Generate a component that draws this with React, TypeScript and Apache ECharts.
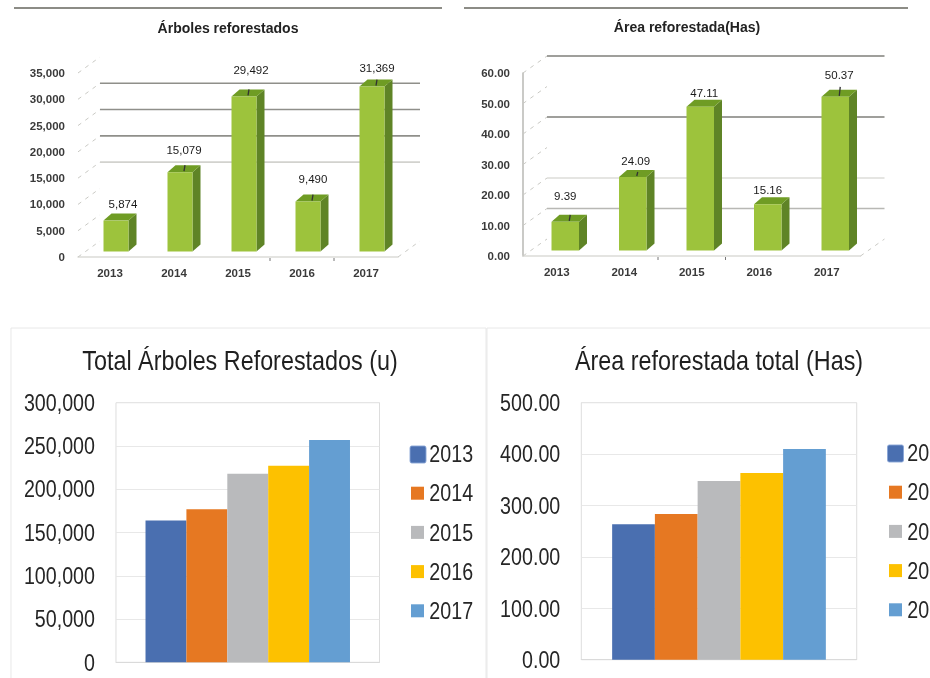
import React, { useEffect, useRef } from "react";
import * as echarts from "echarts";

// ---- data ----
const years = ["2013", "2014", "2015", "2016", "2017"];
const treeValues = [5874, 15079, 29492, 9490, 31369];
const areaValues = [9.39, 24.09, 47.11, 15.16, 50.37];
const treeTicks = [0, 5000, 10000, 15000, 20000, 25000, 30000, 35000];
const areaTicks = [0, 10, 20, 30, 40, 50, 60];
const treeWallLines: [number, string][] = [[30000, "#8f8f8a"], [25000, "#8f8f8a"], [20000, "#8f8f8a"], [15000, "#d2d2ce"]];
const areaWallLines: [number, string][] = [[60, "#7f7f7a"], [40, "#7f7f7a"], [20, "#dcdcd8"], [10, "#b8b8b4"]];
const totalTrees = [164000, 177000, 218000, 227000, 257000];
const totalArea = [263.4, 283.5, 347.7, 363.2, 410];
const yearColors = ["#4a6fb0", "#e67822", "#b9babc", "#fdc100", "#649ed2"];

// ---- label placement tweaks (layout only) ----
const treeLift = [17, 22, 26, 23, 19];
const treeShift = [7, 4, 7, 5, 5];
const treeLeader = [0, 6, 6, 6, 6];
const areaLift = [26, 16, 14, 14, 22];
const areaShift = [0, 3, 4, 0, 4];
const areaLeader = [6, 4, 0, 0, 9];

const SANS = '"Liberation Sans", Arial, sans-serif';
// The lower charts use a condensed face that is not installed: their whole
// instance is squeezed horizontally, so all x positions are divided by this.
const SQUEEZE = 0.82;
const sx = (x: number) => x / SQUEEZE;

function bars3d(axis: number, values: number[], fmt: (v: number) => string, barW: number, off: number, dx: number, dy: number, lift: number[], shift: number[], leader: number[]) {
  return {
    type: "custom",
    xAxisIndex: axis,
    yAxisIndex: axis,
    z: 5,
    silent: true,
    data: values.map((v, i) => [i, v]),
    renderItem: (_p: any, api: any) => {
      const i = api.value(0);
      const v = api.value(1);
      const top = api.coord([i, v]);
      const base = api.coord([i, 0]);
      const l = top[0] + off - barW / 2;
      const r = l + barW;
      const t = top[1] - 5.5;
      const b = base[1] - 5.5;
      const children: any[] = [
        { type: "polygon", shape: { points: [[r, t], [r + dx, t - dy], [r + dx, b - dy], [r, b]] }, style: { fill: "#5f8426" } },
        { type: "polygon", shape: { points: [[l, t], [l + dx, t - dy], [r + dx, t - dy], [r, t]] }, style: { fill: "#6f9c24" } },
        { type: "rect", shape: { x: l, y: t, width: barW, height: b - t }, style: { fill: "#9dc33c" } },
      ];
      const cx = (l + r) / 2;
      if (leader[i] > 0) {
        children.push({ type: "line", shape: { x1: cx + dx / 2, y1: t - 1, x2: cx + dx / 2 + 1, y2: t - 1 - leader[i] }, style: { stroke: "#333", lineWidth: 1.3 } });
      }
      children.push({
        type: "text",
        style: { text: fmt(v), x: cx + shift[i], y: t - lift[i], textAlign: "center", textVerticalAlign: "middle", fill: "#1a1a1a", fontSize: 11.5, fontFamily: SANS },
      });
      return { type: "group", children };
    },
  };
}

function wall(axis: number, ticks: number[], lines: [number, string][], dx: number, dy: number, marks: number[]) {
  return {
    type: "custom",
    xAxisIndex: axis,
    yAxisIndex: axis,
    z: 1,
    silent: true,
    data: ticks.map((v) => [0, v]),
    renderItem: (p: any, api: any) => {
      const rect = p.coordSys;
      const v = api.value(1);
      const y = api.coord([0, v])[1];
      const children: any[] = [
        { type: "line", shape: { x1: rect.x, y1: y, x2: rect.x + dx, y2: y - dy }, style: { stroke: "#c9c9c4", lineWidth: 1, lineDash: [4, 5] } },
      ];
      const hit = lines.find((w) => w[0] === v);
      if (hit) {
        children.push({ type: "line", shape: { x1: rect.x + dx, y1: y - dy, x2: rect.x + rect.width + dx, y2: y - dy }, style: { stroke: hit[1], lineWidth: 1.6 } });
      }
      if (v === 0) {
        children.push({ type: "line", shape: { x1: rect.x + rect.width, y1: y, x2: rect.x + rect.width + dx, y2: y - dy }, style: { stroke: "#c9c9c4", lineWidth: 1, lineDash: [4, 5] } });
        marks.forEach((k) => {
          const x = rect.x + (rect.width / years.length) * k;
          children.push({ type: "line", shape: { x1: x, y1: y + 1, x2: x, y2: y + 4 }, style: { stroke: "#777", lineWidth: 1 } });
        });
      }
      return { type: "group", children };
    },
  };
}

function topOption() {
  const tinyLabel = { fontFamily: SANS, fontSize: 11.5, fontWeight: "bold", color: "#3a3a3a" };
  const headline = { fontFamily: SANS, fontSize: 14, fontWeight: "bold", color: "#222" };
  return {
    animation: false,
    backgroundColor: "transparent",
    title: [
      { text: "Árboles reforestados", left: 228, top: 21, padding: 0, textAlign: "center", textStyle: headline },
      { text: "Área reforestada(Has)", left: 687, top: 20, padding: 0, textAlign: "center", textStyle: headline },
    ],
    grid: [
      { left: 78, top: 73, width: 320, height: 184 },
      { left: 523, top: 73, width: 337.5, height: 183 },
    ],
    xAxis: [0, 1].map((g) => ({
      type: "category",
      gridIndex: g,
      data: years,
      axisLine: { show: true, lineStyle: { color: "#dcdcd8", width: 1.5 } },
      axisTick: { show: false },
      axisLabel: { ...tinyLabel, margin: 10 },
    })),
    yAxis: [
      {
        type: "value", gridIndex: 0, min: 0, max: 35000, interval: 5000,
        axisLine: { show: false }, axisTick: { show: false }, splitLine: { show: false },
        axisLabel: { ...tinyLabel, margin: 13, formatter: (v: number) => v.toLocaleString("en-US") },
      },
      {
        type: "value", gridIndex: 1, min: 0, max: 60, interval: 10,
        axisLine: { show: true, lineStyle: { color: "#b9b9b5", width: 1.5 } }, axisTick: { show: false }, splitLine: { show: false },
        axisLabel: { ...tinyLabel, margin: 13, formatter: (v: number) => v.toFixed(2) },
      },
    ],
    graphic: [
      { type: "line", shape: { x1: 14, y1: 8, x2: 442, y2: 8 }, style: { stroke: "#8c8c86", lineWidth: 2 } },
      { type: "line", shape: { x1: 464, y1: 8, x2: 908, y2: 8 }, style: { stroke: "#8c8c86", lineWidth: 2 } },
    ],
    series: [
      wall(0, treeTicks, treeWallLines, 22, 16, [3, 4]),
      wall(1, areaTicks, areaWallLines, 24, 17, [2, 3]),
      bars3d(0, treeValues, (v) => v.toLocaleString("en-US"), 25, 6, 8, 7, treeLift, treeShift, treeLeader),
      bars3d(1, areaValues, (v) => v.toFixed(2), 27.5, 8.5, 8, 7, areaLift, areaShift, areaLeader),
    ],
  };
}

function bottomOption() {
  const big = { fontFamily: SANS, fontSize: 24, color: "#262626" };
  const headline = { fontFamily: SANS, fontSize: 28.5, fontWeight: "normal", color: "#1f1f1f" };
  const axisY = (g: number, max: number, interval: number, fmt: (v: number) => string) => ({
    type: "value", gridIndex: g, min: 0, max, interval,
    axisLine: { show: false }, axisTick: { show: false },
    splitLine: { show: true, lineStyle: { color: "#e6e6e6", width: 1 } },
    axisLabel: { ...big, margin: sx(21), formatter: fmt },
  });
  const seriesFor = (g: number, values: number[]) =>
    years.map((y, i) => ({
      type: "bar",
      name: y,
      xAxisIndex: g,
      yAxisIndex: g,
      data: [values[i]],
      barGap: "0%",
      barCategoryGap: "22.4%",
      itemStyle: { color: yearColors[i] },
      silent: true,
    }));
  const legendAt = (left: number, top: number) => ({
    orient: "vertical", left: sx(left), top, padding: 0, itemWidth: sx(13), itemHeight: 13, itemGap: 15.2, icon: "rect",
    data: years, selectedMode: false,
    textStyle: { ...big, lineHeight: 24, padding: [0, 0, 0, 1.5] },
  });
  return {
    animation: false,
    backgroundColor: "transparent",
    title: [
      { text: "Total Árboles Reforestados (u)", left: sx(240), top: 346, padding: 0, textAlign: "center", textStyle: headline },
      { text: "Área reforestada total (Has)", left: sx(719), top: 346, padding: 0, textAlign: "center", textStyle: headline },
    ],
    grid: [
      { left: sx(116), top: 402.7, width: sx(263.5), height: 259.6, show: true, borderColor: "#d9d9d9", borderWidth: 1 },
      { left: sx(581.3), top: 402.7, width: sx(275.4), height: 257, show: true, borderColor: "#d9d9d9", borderWidth: 1 },
    ],
    xAxis: [0, 1].map((g) => ({
      type: "category", gridIndex: g, data: [""],
      axisLine: { show: true, lineStyle: { color: "#d9d9d9" } }, axisTick: { show: false }, axisLabel: { show: false },
    })),
    yAxis: [
      axisY(0, 300000, 50000, (v: number) => v.toLocaleString("en-US")),
      axisY(1, 500, 100, (v: number) => v.toFixed(2)),
    ],
    legend: [legendAt(411, 442), legendAt(889, 441)],
    graphic: [
      { type: "rect", z: -1, shape: { x: sx(11), y: 328, width: sx(475), height: 360 }, style: { fill: "none", stroke: "#e6e6e6", lineWidth: 1 } },
      { type: "rect", z: -1, shape: { x: sx(487), y: 328, width: sx(600), height: 360 }, style: { fill: "none", stroke: "#e6e6e6", lineWidth: 1 } },
      { type: "rect", z: 10, shape: { x: sx(410), y: 446, width: sx(16), height: 17, r: 2 }, style: { fill: yearColors[0], stroke: "#8aa6d6", lineWidth: 1 } },
      { type: "rect", z: 10, shape: { x: sx(887.5), y: 445, width: sx(16), height: 17, r: 2 }, style: { fill: yearColors[0], stroke: "#8aa6d6", lineWidth: 1 } },
    ],
    series: [...seriesFor(0, totalTrees), ...seriesFor(1, totalArea)],
  };
}

export default function App() {
  const topRef = useRef<HTMLDivElement>(null);
  const bottomRef = useRef<HTMLDivElement>(null);
  useEffect(() => {
    const a = echarts.init(topRef.current!, undefined, { renderer: "svg" });
    const b = echarts.init(bottomRef.current!, undefined, { renderer: "svg" });
    a.setOption(topOption() as any);
    b.setOption(bottomOption() as any);
    return () => {
      a.dispose();
      b.dispose();
    };
  }, []);
  return (
    <div style={{ position: "absolute", left: 0, top: 0, width: 930, height: 678, overflow: "hidden", background: "#fff" }}>
      <div ref={topRef} style={{ position: "absolute", left: 0, top: 0, width: 930, height: 320, filter: "blur(0.6px)" }} />
      <div ref={bottomRef} style={{ position: "absolute", left: 0, top: 0, width: 1300, height: 678, transform: `scaleX(${SQUEEZE})`, transformOrigin: "0 0", filter: "blur(0.25px)" }} />
    </div>
  );
}
